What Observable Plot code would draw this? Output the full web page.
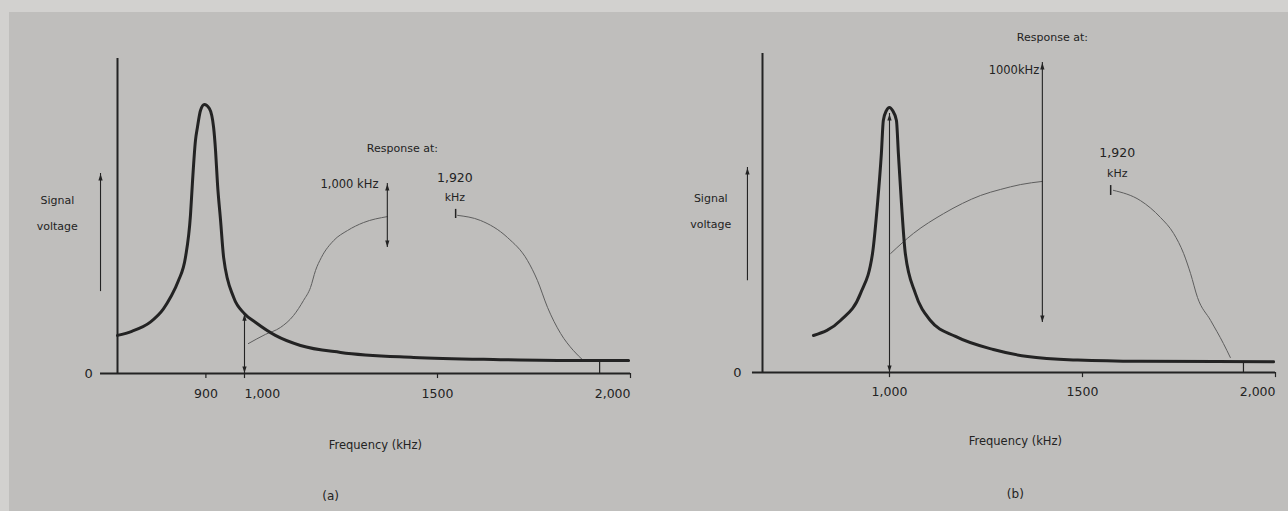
<!DOCTYPE html>
<html><head><meta charset="utf-8">
<script src="https://cdn.jsdelivr.net/npm/d3@7"></script>
<script src="https://cdn.jsdelivr.net/npm/@observablehq/plot@0.6"></script>
<style>
html,body{margin:0;padding:0;background:#d2d1cf;}
#page{position:relative;width:1288px;height:511px;overflow:hidden;background:#d2d1cf;}
#inner{position:absolute;left:9px;top:12px;right:0;bottom:0;background:#bfbebc;}
#pa,#pb{position:absolute;top:0;}
#pa{left:0px}#pb{left:644px}
</style></head><body>
<div id="page"><div id="inner"></div><div id="pa"></div><div id="pb"></div></div>
<script>
// ---- shared axis data ----
const freqSpan = [671, 2000];
const ticksA = [900, 1000, 1500, 2000];
const tickLabelsA = ["900", "1,000", "1500", "2,000"];
const ticksB = [1000, 1500, 2000];
const tickLabelsB = ["1,000", "1500", "2,000"];

// ---- panel (a): tuned circuit at 900 kHz ----
const aPeakFreq = [671,708,756,790,808,829,847,860,865,873,878,886,896,909,920,925,930,938,946,972,1000,1029,1080,1145,1249,1438,1663,1870,1995];
const aPeakVolt = [12.1,13.4,16.3,20.5,24.1,29.5,36.8,50.2,60.3,74.0,78.1,83.5,85.4,84.1,78.1,70.8,60.3,48.6,36.8,24.1,19.0,16.2,12.1,8.9,6.7,5.1,4.4,4.1,4.1];
const aRespLowFreq = [1010,1054,1093,1127,1153,1171,1184,1199,1231,1267,1308,1370];
const aRespLowVolt = [9.5,12.4,14.6,18.4,23.2,27.3,32.7,36.8,42.2,45.4,47.9,49.8];
const aRespHighFreq = [1552,1611,1681,1733,1759,1785,1819,1852,1878];
const aRespHighVolt = [50.2,48.6,43.2,35.9,29.5,21.0,12.7,7.3,4.1];
const aArrowFreq = [1000, 1370];
const aArrowLow = [0, 40.0];
const aArrowHigh = [19.0, 60.3];
const aMarkFreq = [1920];
const aMarkLow = [0];
const aMarkHigh = [4.1];

// ---- panel (b): tuned circuit at 1000 kHz ----
const bPeakFreq = [803,873,925,956,969,979,984,992,1000,1008,1018,1023,1031,1041,1067,1106,1171,1269,1358,1487,1650,1995];
const bPeakVolt = [11.6,16.3,24.8,37.3,53.0,68.7,79.0,82.1,83.1,82.1,79.0,68.7,53.0,37.3,24.8,16.3,11.3,7.2,5.0,3.9,3.5,3.4];
const bRespLowFreq = [1003,1062,1140,1189,1236,1288,1339,1396];
const bRespLowVolt = [37.3,43.6,49.8,53.0,55.5,57.4,58.9,59.9];
const bRespHighFreq = [1580,1650,1702,1736,1762,1780,1798,1832,1865,1883];
const bRespHighVolt = [57.1,53.9,48.6,43.6,37.3,31.0,23.5,16.3,9.1,4.7];
const bArrowFreq = [1000, 1396];
const bArrowLow = [0, 15.7];
const bArrowHigh = [81.2, 97.2];
const bMarkFreq = [1917];
const bMarkLow = [0];
const bMarkHigh = [3.4];

const ink = "#232323";
const thinInk = "#5e5e5e";
const font = "DejaVu Sans";

const pts = (fs, vs) => fs.map((f, i) => ({f, v: vs[i]}));
const segs = (fs, lo, hi) => fs.map((f, i) => ({f, lo: lo[i], hi: hi[i]}));

// narrow filled arrowhead symbol, tip up
const headSym = {draw(ctx, size) {
  const h = Math.sqrt(size) * 1.25, w = h * 0.32;
  ctx.moveTo(0, -h * 0.62); ctx.lineTo(w, h * 0.38); ctx.lineTo(-w, h * 0.38); ctx.closePath();
}};

function arrowMarks(data, both, color) {
  const m = [Plot.ruleX(data, {x: "f", y1: "lo", y2: "hi", stroke: color, strokeWidth: 1.1})];
  m.push(Plot.dot(data, {x: "f", y: "hi", symbol: headSym, r: 3, fill: color, stroke: "none", dy: 4.5}));
  if (both) m.push(Plot.dot(data, {x: "f", y: "lo", symbol: headSym, r: 3, fill: color, stroke: "none", rotate: 180, dy: -4.5}));
  return m;
}

function tickLabelMarks(ticks, labels, anchors, dy) {
  return ticks.map((t, i) => Plot.text([t], {x: d => d, y: 0, text: () => labels[i], textAnchor: anchors[i], dy, fontSize: 12.5, fill: ink, fontFamily: font}));
}

function panel(o) {
  return Plot.plot({
    width: 644, height: 511,
    marginLeft: o.ml, marginRight: o.mr, marginTop: o.mt, marginBottom: o.mb,
    x: {domain: freqSpan, axis: null},
    y: {domain: [0, 100], axis: null},
    style: {background: "transparent", fontFamily: font, color: ink, overflow: "visible"},
    marks: [
      // axes
      Plot.ruleY([0], {x1: o.axisStart, x2: 2000, stroke: ink, strokeWidth: 2}),
      Plot.ruleX([freqSpan[0]], {y1: 0, y2: 100, stroke: ink, strokeWidth: 2}),
      Plot.ruleX(o.ticks, {x: d => d, y1: 0, y2: -1.6, stroke: ink, strokeWidth: 1.2}),
      ...tickLabelMarks(o.ticks, o.tickLabels, o.anchors, o.tickDy),
      Plot.text(["0"], {x: o.zeroAt, y: 0, fontSize: 13, fill: ink, fontFamily: font}),
      // curves
      Plot.line(pts(o.respLowF, o.respLowV), {x: "f", y: "v", stroke: thinInk, strokeWidth: 1, curve: "monotone-x"}),
      Plot.line(pts(o.respHighF, o.respHighV), {x: "f", y: "v", stroke: thinInk, strokeWidth: 1, curve: "monotone-x"}),
      Plot.line(pts(o.peakF, o.peakV), {x: "f", y: "v", stroke: ink, strokeWidth: 3, curve: "monotone-x"}),
      // arrows
      ...arrowMarks(segs(o.arrF, o.arrLo, o.arrHi), true, ink),
      Plot.ruleX(segs(o.markF, o.markLo, o.markHi), {x: "f", y1: "lo", y2: "hi", stroke: ink, strokeWidth: 1.2}),
      ...arrowMarks(segs([o.sigF], [o.sigLo], [o.sigHi]), false, ink),
      Plot.ruleX([o.tickMark.f], {y1: o.tickMark.lo, y2: o.tickMark.hi, stroke: ink, strokeWidth: 1.5}),
      // labels
      Plot.text(["Signal"], {x: o.sig.f, y: o.sig.v1, fontSize: 11, fill: ink, fontFamily: font}),
      Plot.text(["voltage"], {x: o.sig.f, y: o.sig.v2, fontSize: 11, fill: ink, fontFamily: font}),
      Plot.text(["Response at:"], {x: o.resp.f, y: o.resp.v, fontSize: 11, fill: ink, fontFamily: font}),
      Plot.text([o.k1000.t], {x: o.k1000.f, y: o.k1000.v, textAnchor: "end", fontSize: 11.5, fill: ink, fontFamily: font}),
      Plot.text(["1,920"], {x: o.k1920.f, y: o.k1920.v1, fontSize: 12.5, fill: ink, fontFamily: font}),
      Plot.text(["kHz"], {x: o.k1920.f, y: o.k1920.v2, fontSize: 11, fill: ink, fontFamily: font}),
      Plot.text(["Frequency (kHz)"], {x: o.freqLab.f, y: o.freqLab.v, fontSize: 11.5, fill: ink, fontFamily: font, style: "letter-spacing:1.6px"}),
      Plot.text([o.panelName], {x: o.nameLab.f, y: o.nameLab.v, fontSize: 12, fill: ink, fontFamily: font})
    ]
  });
}

const svgA = panel({
  ml: 117, mr: 14, mt: 58, mb: 138, axisStart: 627, zeroAt: 596,
  ticks: ticksA, tickLabels: tickLabelsA, anchors: ["middle", "start", "middle", "end"], tickDy: 20,
  peakF: aPeakFreq, peakV: aPeakVolt,
  respLowF: aRespLowFreq, respLowV: aRespLowVolt, respHighF: aRespHighFreq, respHighV: aRespHighVolt,
  arrF: aArrowFreq, arrLo: aArrowLow, arrHi: aArrowHigh,
  markF: aMarkFreq, markLo: aMarkLow, markHi: aMarkHigh,
  sigF: 627, sigLo: 26, sigHi: 63.5,
  tickMark: {f: 1547, lo: 49.2, hi: 52.1},
  sig: {f: 515, v1: 54.9, v2: 46.7},
  resp: {f: 1409, v: 71.4},
  k1000: {t: "1,000 kHz", f: 1347, v: 60},
  k1920: {f: 1545, v1: 62.2, v2: 55.9},
  freqLab: {f: 1339, v: -22.9},
  nameLab: {f: 1223, v: -39}, panelName: "(a)"
});
const svgB = panel({
  ml: 118, mr: 13, mt: 53, mb: 139, axisStart: 645, zeroAt: 606,
  ticks: ticksB, tickLabels: tickLabelsB, anchors: ["middle", "middle", "end"], tickDy: 19,
  peakF: bPeakFreq, peakV: bPeakVolt,
  respLowF: bRespLowFreq, respLowV: bRespLowVolt, respHighF: bRespHighFreq, respHighV: bRespHighVolt,
  arrF: bArrowFreq, arrLo: bArrowLow, arrHi: bArrowHigh,
  markF: bMarkFreq, markLo: bMarkLow, markHi: bMarkHigh,
  sigF: 632, sigLo: 28.8, sigHi: 64.3,
  tickMark: {f: 1573, lo: 55.5, hi: 58.6},
  sig: {f: 537, v1: 54.5, v2: 46.4},
  resp: {f: 1422, v: 105},
  k1000: {t: "1000kHz", f: 1388, v: 94.7},
  k1920: {f: 1590, v1: 68.7, v2: 62.4},
  freqLab: {f: 1326, v: -21.6},
  nameLab: {f: 1326, v: -38.2}, panelName: "(b)"
});
document.getElementById("pa").appendChild(svgA);
document.getElementById("pb").appendChild(svgB);
</script>
</body></html>
